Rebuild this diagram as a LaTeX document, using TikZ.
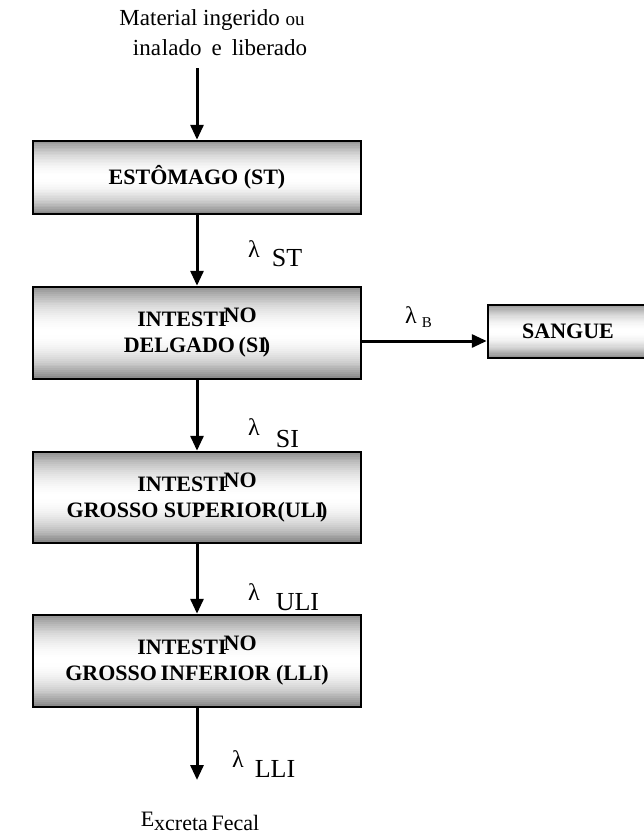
\documentclass[tikz,border=0pt]{standalone}
\usepackage{fontspec}
\setmainfont{Liberation Serif}
\usetikzlibrary{arrows.meta,calc}
\pgfdeclarelayer{background}
\pgfsetlayers{background,main}

% vertical grey-white-grey gradient behind a box, built from thin strips
\newcommand\gutshade[1]{%
  \foreach \i in {0,...,47}{%
    \pgfmathsetmacro\ta{\i/48}%
    \pgfmathsetmacro\tb{min(1,(\i+1.4)/48)}%
    \pgfmathsetmacro\tm{(\i+0.5)/48}%
    \pgfmathsetmacro\edge{\tm<0.5 ? 0.52 : 0.46}%
    \pgfmathsetmacro\g{\edge+(1-\edge)*(sin(180*\tm))^0.8}%
    \fill[color={rgb,1:red,\g;green,\g;blue,\g}]
      ($(#1.north west)!\ta!(#1.south west)$) rectangle
      ($(#1.north east)!\tb!(#1.south east)$);
  }%
}

\begin{document}
\begin{tikzpicture}[x=1pt,y=-1pt,
  organ/.style={draw=black, line width=2.5pt, rectangle,
    inner sep=0pt, align=center,
    font=\fontsize{22}{26}\selectfont\bfseries},
  flow/.style={line width=3pt, -{Triangle[length=15pt,width=13pt]}},
  rate/.style={anchor=base west, inner sep=0pt,
    font=\fontsize{24}{24}\selectfont},
  caption/.style={inner sep=0pt, align=center,
    font=\fontsize{23}{30}\selectfont},
]
\useasboundingbox (0,0) rectangle (644,836);
\clip (0,0) rectangle (644,836);

% compartments of the gastrointestinal tract
\node[organ, minimum width=328pt, minimum height=73pt] (st) at (197,177.5)
  {ESTÔMAGO (ST)};
\node[organ, minimum width=328pt, minimum height=92pt] (si) at (197,333)
  {INTESTI\kern-3pt\raisebox{4pt}{NO}\\DELGADO\,(SI\kern-4pt)};
\node[organ, minimum width=328pt, minimum height=91pt] (uli) at (197,497.5)
  {INTESTI\kern-3pt\raisebox{4pt}{NO}\\GROSSO SUPERIOR(ULI\kern-4pt)};
\node[organ, minimum width=328pt, minimum height=92pt] (lli) at (197,661)
  {INTESTI\kern-3pt\raisebox{4pt}{NO}\\GROSSO\,INFERIOR (LLI)};
\node[organ, minimum width=160pt, minimum height=53pt] (sangue) at (568,331.5)
  {SANGUE};

\begin{pgfonlayer}{background}
  \gutshade{st}
  \gutshade{si}
  \gutshade{uli}
  \gutshade{lli}
  \gutshade{sangue}
\end{pgfonlayer}

% intake and excretion
\node[caption] (src) at (216,33)
  {Material ingerido {\fontsize{19}{19}\selectfont ou}\hspace*{8pt}\\
   \hspace*{8pt}ina\hspace{1pt}lado\hspace{10pt}e\hspace{10pt}liberado};
\coordinate (srcEnd) at (197,68);
\coordinate (outEnd) at (197,780);
\node[caption, anchor=base, font=\fontsize{22}{26}\selectfont] (fecal) at (200,830)
  {\raisebox{4pt}{E}xcreta\,Fecal};

% transfers
\draw[flow] (srcEnd) -- (st.north);
\draw[flow] (st.south) -- (si.north);
\draw[flow] (si.south) -- (uli.north);
\draw[flow] (uli.south) -- (lli.north);
\draw[flow] (lli.south) -- (outEnd);
\draw[flow] ([yshift=-8pt]si.east) -- ([yshift=-8pt]si.east -| sangue.west);

% transfer rates
\node[rate] (lst) at (248,257)
  {λ\hspace{12pt}\raisebox{-9pt}{\fontsize{26}{26}\selectfont ST}};
\node[rate] (lb) at (405,323)
  {λ\hspace{5pt}\raisebox{-4pt}{\fontsize{15}{15}\selectfont B}};
\node[rate] (lsi) at (248,435)
  {λ\hspace{16pt}\raisebox{-12pt}{\fontsize{26}{26}\selectfont SI}};
\node[rate] (luli) at (248,600)
  {λ\hspace{16pt}\raisebox{-10pt}{\fontsize{26}{26}\selectfont ULI}};
\node[rate] (llli) at (232,767)
  {λ\hspace{11pt}\raisebox{-10pt}{\fontsize{26}{26}\selectfont LLI}};
\end{tikzpicture}
\end{document}
